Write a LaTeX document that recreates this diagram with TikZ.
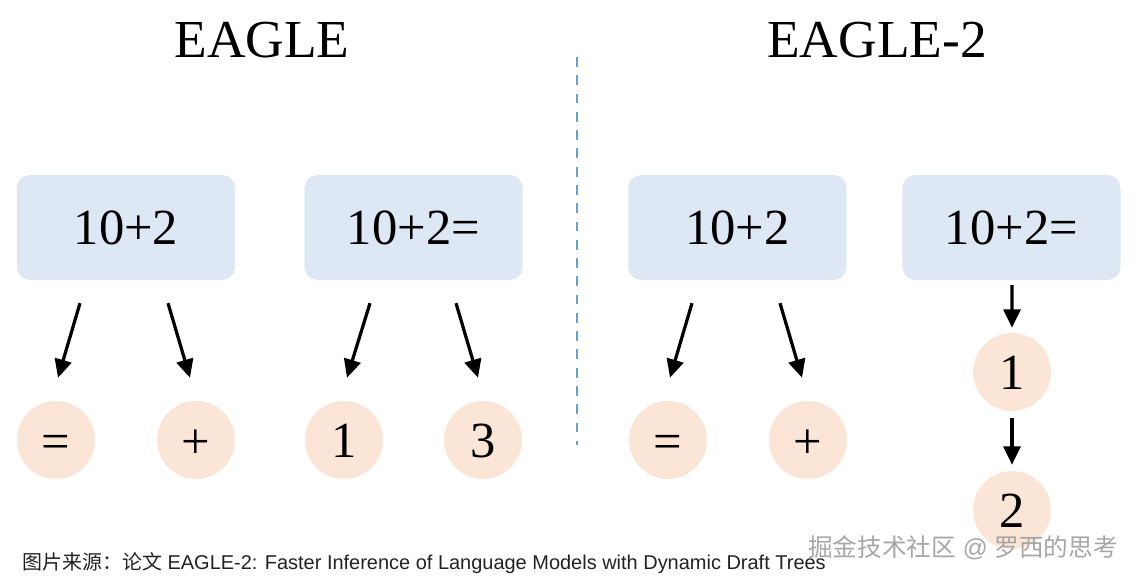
\documentclass[tikz,border=0pt]{standalone}
\usepackage{fontspec}
\setmainfont{Liberation Serif}
\setsansfont{Liberation Sans}
\newfontfamily\cjk{Noto Sans CJK SC}
\usepackage{tikz}
\usetikzlibrary{calc,positioning,arrows.meta}
\definecolor{promptblue}{HTML}{DEE8F4}
\definecolor{tokenpeach}{HTML}{FBE5D6}
\definecolor{splitblue}{HTML}{6A9FD6}
\definecolor{captiongray}{HTML}{222222}

\begin{document}
\begin{tikzpicture}[x=0.025cm, y=0.025cm,
    prompt/.style={fill=promptblue, rounded corners=9pt, minimum width=5.45cm,
                   minimum height=2.62cm, inner sep=0pt, font=\fontsize{36}{40}\selectfont},
    token/.style={circle, fill=tokenpeach, minimum size=1.95cm, inner sep=0pt,
                  text height=24.5pt, text depth=0pt, font=\fontsize{36}{40}\selectfont},
    optoken/.style={token, text height=26pt},
    title/.style={font=\fontsize{38}{42}\selectfont},
    arr/.style={-{Triangle[length=13pt,width=12pt]}, line width=2.3pt}]
    \useasboundingbox (0,0) rectangle (1136,583);
    \node[title] (t1) at (262,543) {EAGLE};
    \node[title] (t2) at (877,543) {EAGLE-2};
    \coordinate (sTop) at (577,526);
    \coordinate (sBot) at (577,138);
    \draw[splitblue, line width=1.7pt, dash pattern=on 7pt off 6pt] (sTop) -- (sBot);
    \node[prompt] (b1) at (126,355.5) {10+2};
    \node[prompt] (b2) at (413.5,355.5) {10+2=};
    \node[prompt] (b3) at (737.5,355.5) {10+2};
    \node[prompt] (b4) at (1011.5,355.5) {10+2=};
    \node[optoken] (c1) at (56,143) {=};
    \node[optoken] (c2) at (196,143) {+};
    \node[token] (c3) at (344,143) {1};
    \node[token] (c4) at (483,143) {3};
    \node[optoken] (c5) at (668,143) {=};
    \node[optoken] (c6) at (808,143) {+};
    \node[token] (c7) at (1012,211) {1};
    \node[token] (c8) at (1012,73) {2};
    \draw[arr] ($(b1.south)+(-46,-23)$) -- ($(c1.north)+(2,23)$);
    \draw[arr] ($(b1.south)+(42,-23)$) -- ($(c2.north)+(-6,23)$);
    \draw[arr] ($(b2.south)+(-43.5,-23)$) -- ($(c3.north)+(3,23)$);
    \draw[arr] ($(b2.south)+(42.5,-23)$) -- ($(c4.north)+(-5,23)$);
    \draw[arr] ($(b3.south)+(-45.5,-23)$) -- ($(c5.north)+(2,23)$);
    \draw[arr] ($(b3.south)+(42.5,-23)$) -- ($(c6.north)+(-6,23)$);
    \draw[arr] ($(b4.south)+(0.5,-5)$) -- ($(c7.north)+(0,5)$);
    \draw[arr] ($(c7.south)+(0,-7)$) -- ($(c8.north)+(0,6)$);
    \node[anchor=base west, text=captiongray, font=\sffamily\fontsize{14.2}{16}\selectfont, inner sep=0pt]
        (cap) at (22,13) {{\cjk 图片来源：论文} EAGLE-2: Faster Inference of Language Models with Dynamic Draft Trees};
    \node[anchor=base east, text=gray!70, font=\sffamily\fontsize{17.5}{19}\selectfont, inner sep=0pt]
        (mark) at (1118,26) {{\cjk 掘金技术社区} @ {\cjk 罗西的思考}};
\end{tikzpicture}
\end{document}
